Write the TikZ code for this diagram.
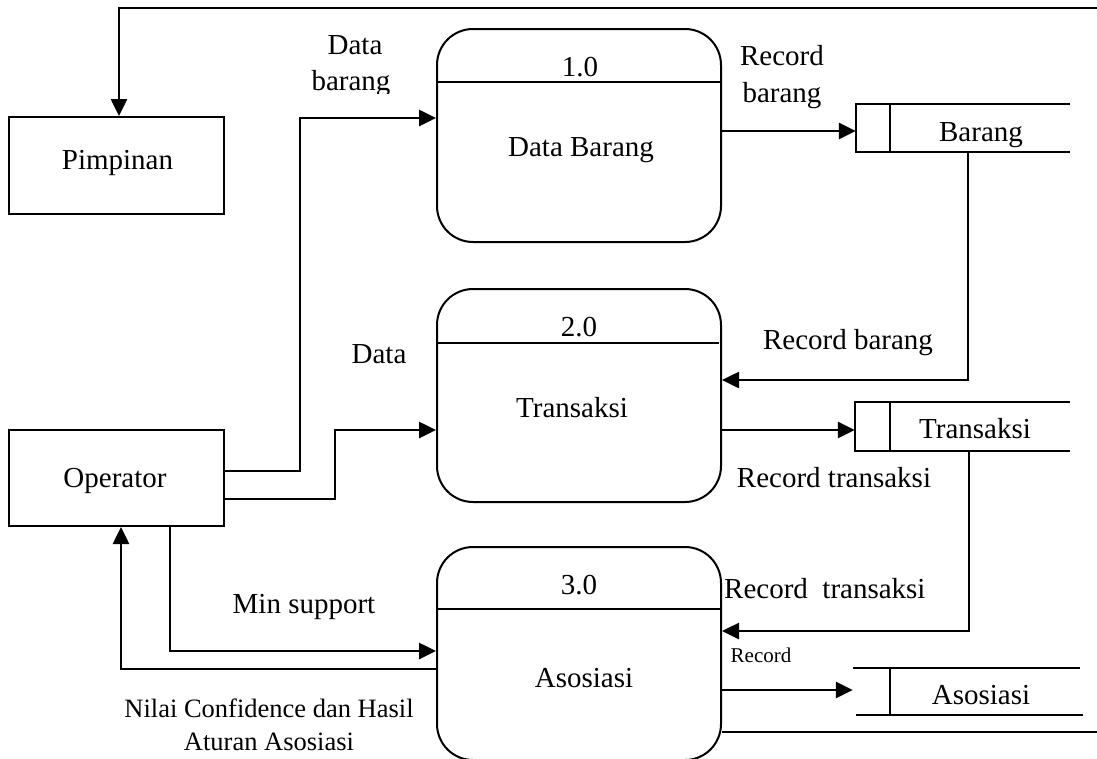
\documentclass[tikz,border=0pt]{standalone}
\usepackage{fontspec}
\setmainfont{Liberation Serif}
\usetikzlibrary{arrows.meta}
\begin{document}
\begin{tikzpicture}[x=1pt,y=-1pt,
  entity/.style={draw, line width=2pt, minimum width=215pt, minimum height=97pt, inner sep=0pt},
  proc/.style={draw, line width=2pt, rounded corners=36pt, minimum width=284pt, minimum height=213pt, inner sep=0pt},
  storearea/.style={minimum height=48pt, inner sep=0pt},
  storeline/.style={line width=2pt},
  divider/.style={line width=1.8pt},
  flow/.style={line width=2.6pt, -{Triangle[length=17pt,width=16pt]}},
  plainflow/.style={line width=2.2pt},
  txt/.style={font=\fontsize{29}{35}\selectfont, anchor=base, inner sep=0pt},
  midtxt/.style={font=\fontsize{26.5}{32}\selectfont, anchor=base, inner sep=0pt},
  smalltxt/.style={font=\fontsize{21}{25}\selectfont, anchor=base, inner sep=0pt}]
\useasboundingbox (0,0) rectangle (1097,758);
\clip (0,0) rectangle (1097,758);

% external entities
\node[entity] (pim) at (116.5,165.5) {};
\node[txt] (pimtxt) at (117.5,169) {Pimpinan};
\node[entity, minimum height=96pt] (op) at (116.5,478) {};
\node[txt] (optxt) at (115,487) {Operator};

% processes
\node[proc] (p1) at (579,135.5) {};
\draw[divider] (p1.west |- 0,82) -- (p1.east |- 0,82);
\node[txt] (p1num) at (580,76) {1.0};
\node[txt] (p1name) at (581,156) {Data Barang};

\node[proc] (p2) at (579,395.5) {};
\draw[divider] (p2.west |- 0,343) -- ([xshift=-3pt]p2.east |- 0,343);
\node[txt] (p2num) at (579,336) {2.0};
\node[txt] (p2name) at (572,417) {Transaksi};

\node[proc] (p3) at (579,653.5) {};
\draw[divider] (p3.west |- 0,609) -- (p3.east |- 0,609);
\node[txt] (p3num) at (579,594) {3.0};
\node[txt] (p3name) at (584,687) {Asosiasi};

% data stores
\node[storearea, minimum width=214pt] (ds1) at (963,128) {};
\draw[storeline] (ds1.north east) -- (ds1.north west) -- (ds1.south west) -- (ds1.south east);
\draw[storeline] (ds1.north -| 890,0) -- (ds1.south -| 890,0);
\node[txt] (ds1txt) at (981,141) {Barang};

\node[storearea, minimum width=215pt, minimum height=49pt] (ds2) at (962.5,426.5) {};
\draw[storeline] (ds2.north east) -- (ds2.north west) -- (ds2.south west) -- (ds2.south east);
\draw[storeline] (ds2.north -| 890,0) -- (ds2.south -| 890,0);
\node[txt] (ds2txt) at (975,438) {Transaksi};

\node[storearea, minimum width=227pt, minimum height=47pt] (ds3) at (966.5,691.5) {};
\draw[storeline] (ds3.north west) -- (ds3.north east);
\draw[storeline] ([xshift=3pt]ds3.south west) -- ([xshift=3pt]ds3.south east);
\draw[storeline] (ds3.north -| 890,0) -- (ds3.south -| 890,0);
\node[txt] (ds3txt) at (981,704) {Asosiasi};

% flows on the left
\coordinate (topright) at (1097,8);
\draw[flow] (topright) -| ([xshift=2.5pt]pim.north);
\draw[flow] (op.east |- 0,471) -| (300,118) -- (p1.west |- 0,118);
\draw[flow] (op.east |- 0,499) -| (335,430) -- (p2.west |- 0,430);
\draw[flow] (op.south -| 170,0) |- (p3.west |- 0,651);
\draw[flow] (p3.west |- 0,669) -| (op.south -| 121,0);

% flows on the right
\draw[flow] (p1.east |- 0,131) -- (ds1.west |- 0,131);
\draw[flow] (ds1.south -| 968,0) |- (p2.east |- 0,380);
\draw[flow] (p2.east |- 0,430) -- (ds2.west |- 0,430);
\draw[flow] (ds2.south -| 969,0) |- (p3.east |- 0,631);
\draw[flow] (p3.east |- 0,690) -- (ds3.west |- 0,690);
\coordinate (bottomright) at (1097,732);
\draw[plainflow] (p3.east |- 0,732) -- (bottomright);

% flow labels
\node[txt] (l1a) at (355,54) {Data};
\begin{scope}
  \clip (280,20) rectangle (436,93);
  \node[txt] (l1b) at (351,90) {barang};
\end{scope}
\node[txt] (l2) at (379,363) {Data};
\node[txt] (l3a) at (782,65) {Record};
\node[txt] (l3b) at (782,102) {barang};
\node[txt] (l4) at (848,349) {Record barang};
\node[txt] (l5) at (834,487) {Record transaksi};
\node[txt, anchor=base west] (l6) at (724,598) {Record\ \ transaksi};
\node[smalltxt] (l7) at (761,662) {Record};
\node[txt] (l8) at (304,613) {Min support};
\node[midtxt] (l9a) at (269,717) {Nilai Confidence dan Hasil};
\node[midtxt] (l9b) at (269,750) {Aturan Asosiasi};
\end{tikzpicture}
\end{document}
